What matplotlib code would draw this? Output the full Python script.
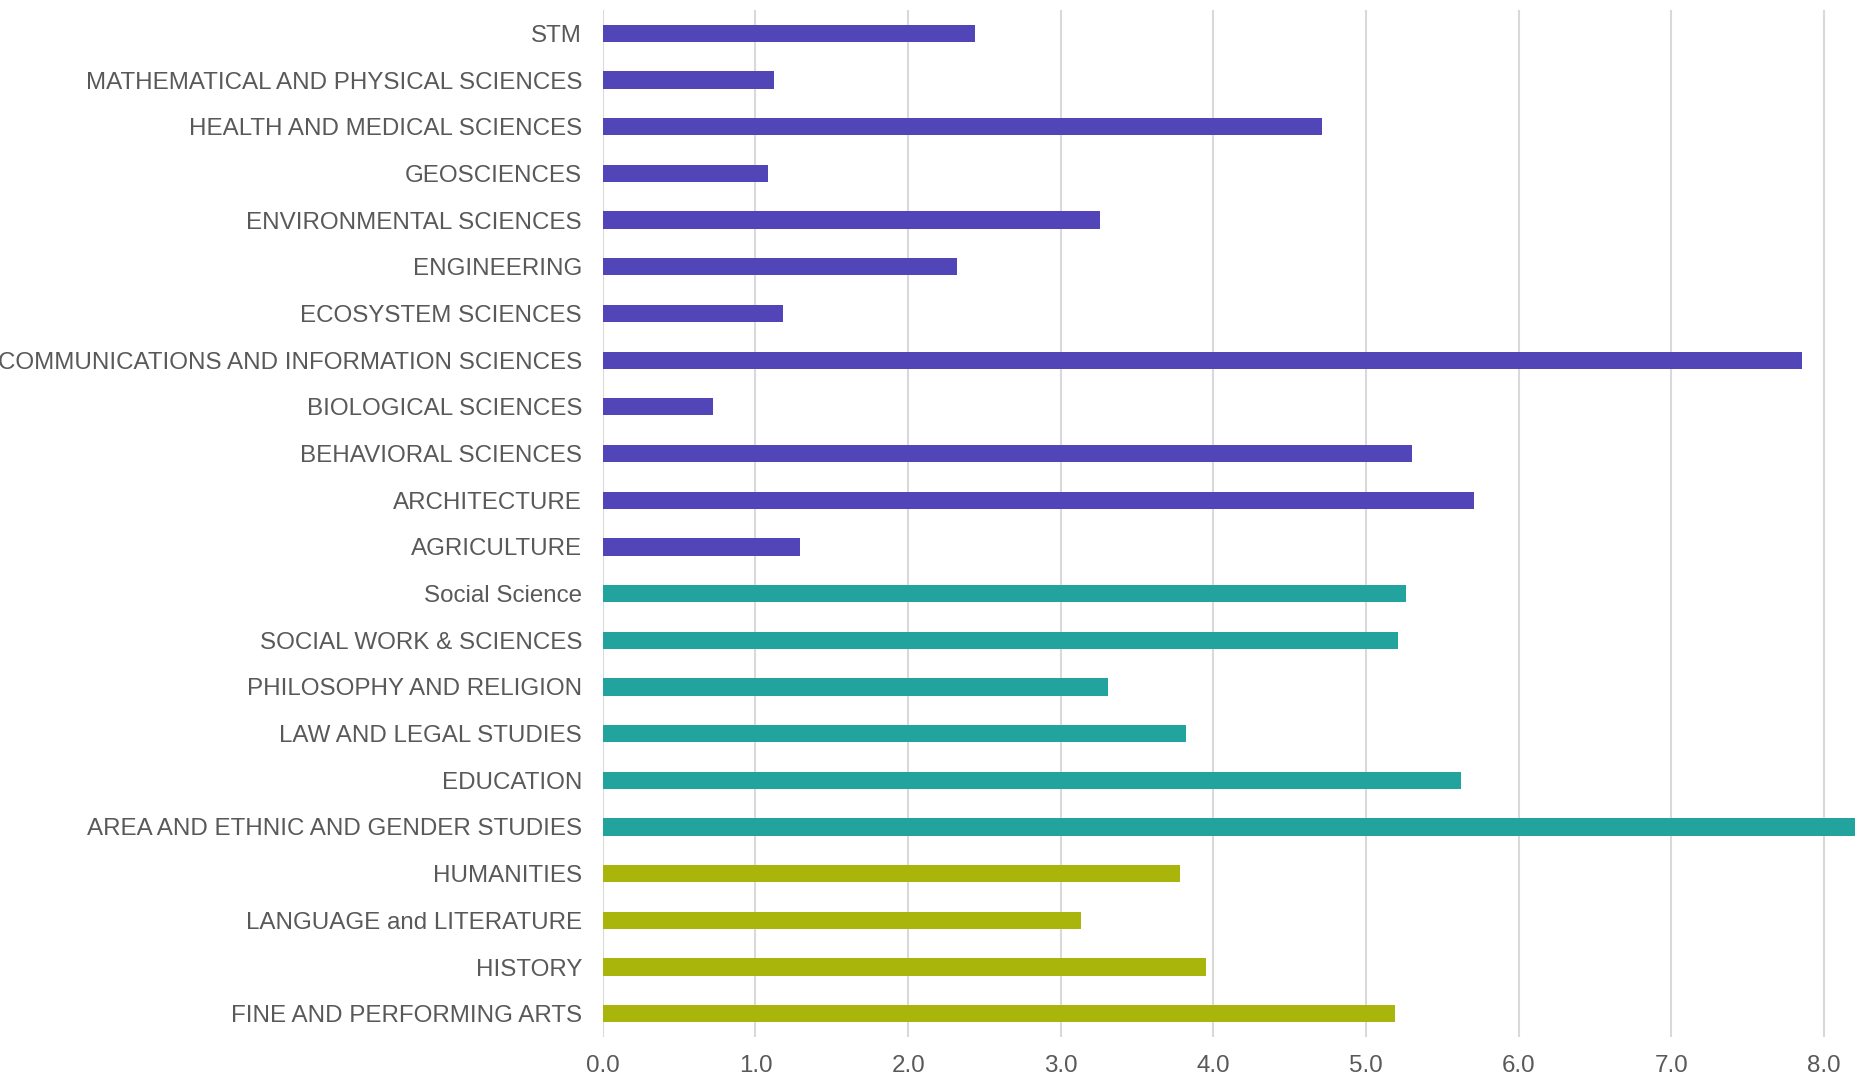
import matplotlib
matplotlib.use('Agg')
import matplotlib.pyplot as plt

# Categories listed top to bottom
stem_labels = ['STM', 'MATHEMATICAL AND PHYSICAL SCIENCES', 'HEALTH AND MEDICAL SCIENCES',
               'GEOSCIENCES', 'ENVIRONMENTAL SCIENCES', 'ENGINEERING', 'ECOSYSTEM SCIENCES',
               'COMMUNICATIONS AND INFORMATION SCIENCES', 'BIOLOGICAL SCIENCES',
               'BEHAVIORAL SCIENCES', 'ARCHITECTURE', 'AGRICULTURE']
stem_values = [2.44, 1.12, 4.71, 1.08, 3.26, 2.32, 1.18, 7.86, 0.72, 5.30, 5.71, 1.29]

social_labels = ['Social Science', 'SOCIAL WORK & SCIENCES', 'PHILOSOPHY AND RELIGION',
                 'LAW AND LEGAL STUDIES', 'EDUCATION', 'AREA AND ETHNIC AND GENDER STUDIES']
social_values = [5.26, 5.21, 3.31, 3.82, 5.62, 8.30]

hum_labels = ['HUMANITIES', 'LANGUAGE and LITERATURE', 'HISTORY', 'FINE AND PERFORMING ARTS']
hum_values = [3.78, 3.13, 3.95, 5.19]

colors = {'stem': '#5245b7', 'social': '#23a39e', 'hum': '#a9b50a'}

labels = stem_labels + social_labels + hum_labels
values = stem_values + social_values + hum_values
bar_colors = ([colors['stem']] * len(stem_values) + [colors['social']] * len(social_values)
              + [colors['hum']] * len(hum_values))

plt.rcParams['font.family'] = ['Liberation Sans', 'DejaVu Sans']

fig = plt.figure(figsize=(18.55, 10.77), dpi=100)
ax = fig.add_axes([0.325, 0.0371, 0.675, 0.9536])

pos = list(range(len(labels)))
ax.barh(pos, values, height=0.37, color=bar_colors, zorder=3)

ax.set_yticks(pos)
ax.set_yticklabels(labels)
ax.set_ylim(len(labels) - 0.5, -0.5)
ax.set_xlim(0, 8.205)
ax.set_xticks([0, 1, 2, 3, 4, 5, 6, 7, 8])
ax.set_xticklabels([f'{v:.1f}' for v in range(9)])

ax.grid(axis='x', color='#d9d9d9', linewidth=1.5, zorder=0)
for s in ax.spines.values():
    s.set_visible(False)
ax.tick_params(axis='both', length=0, labelsize=17.4, labelcolor='#595959')
ax.tick_params(axis='y', pad=15)
ax.tick_params(axis='x', pad=13)

fig.savefig('out.png', dpi=100)
